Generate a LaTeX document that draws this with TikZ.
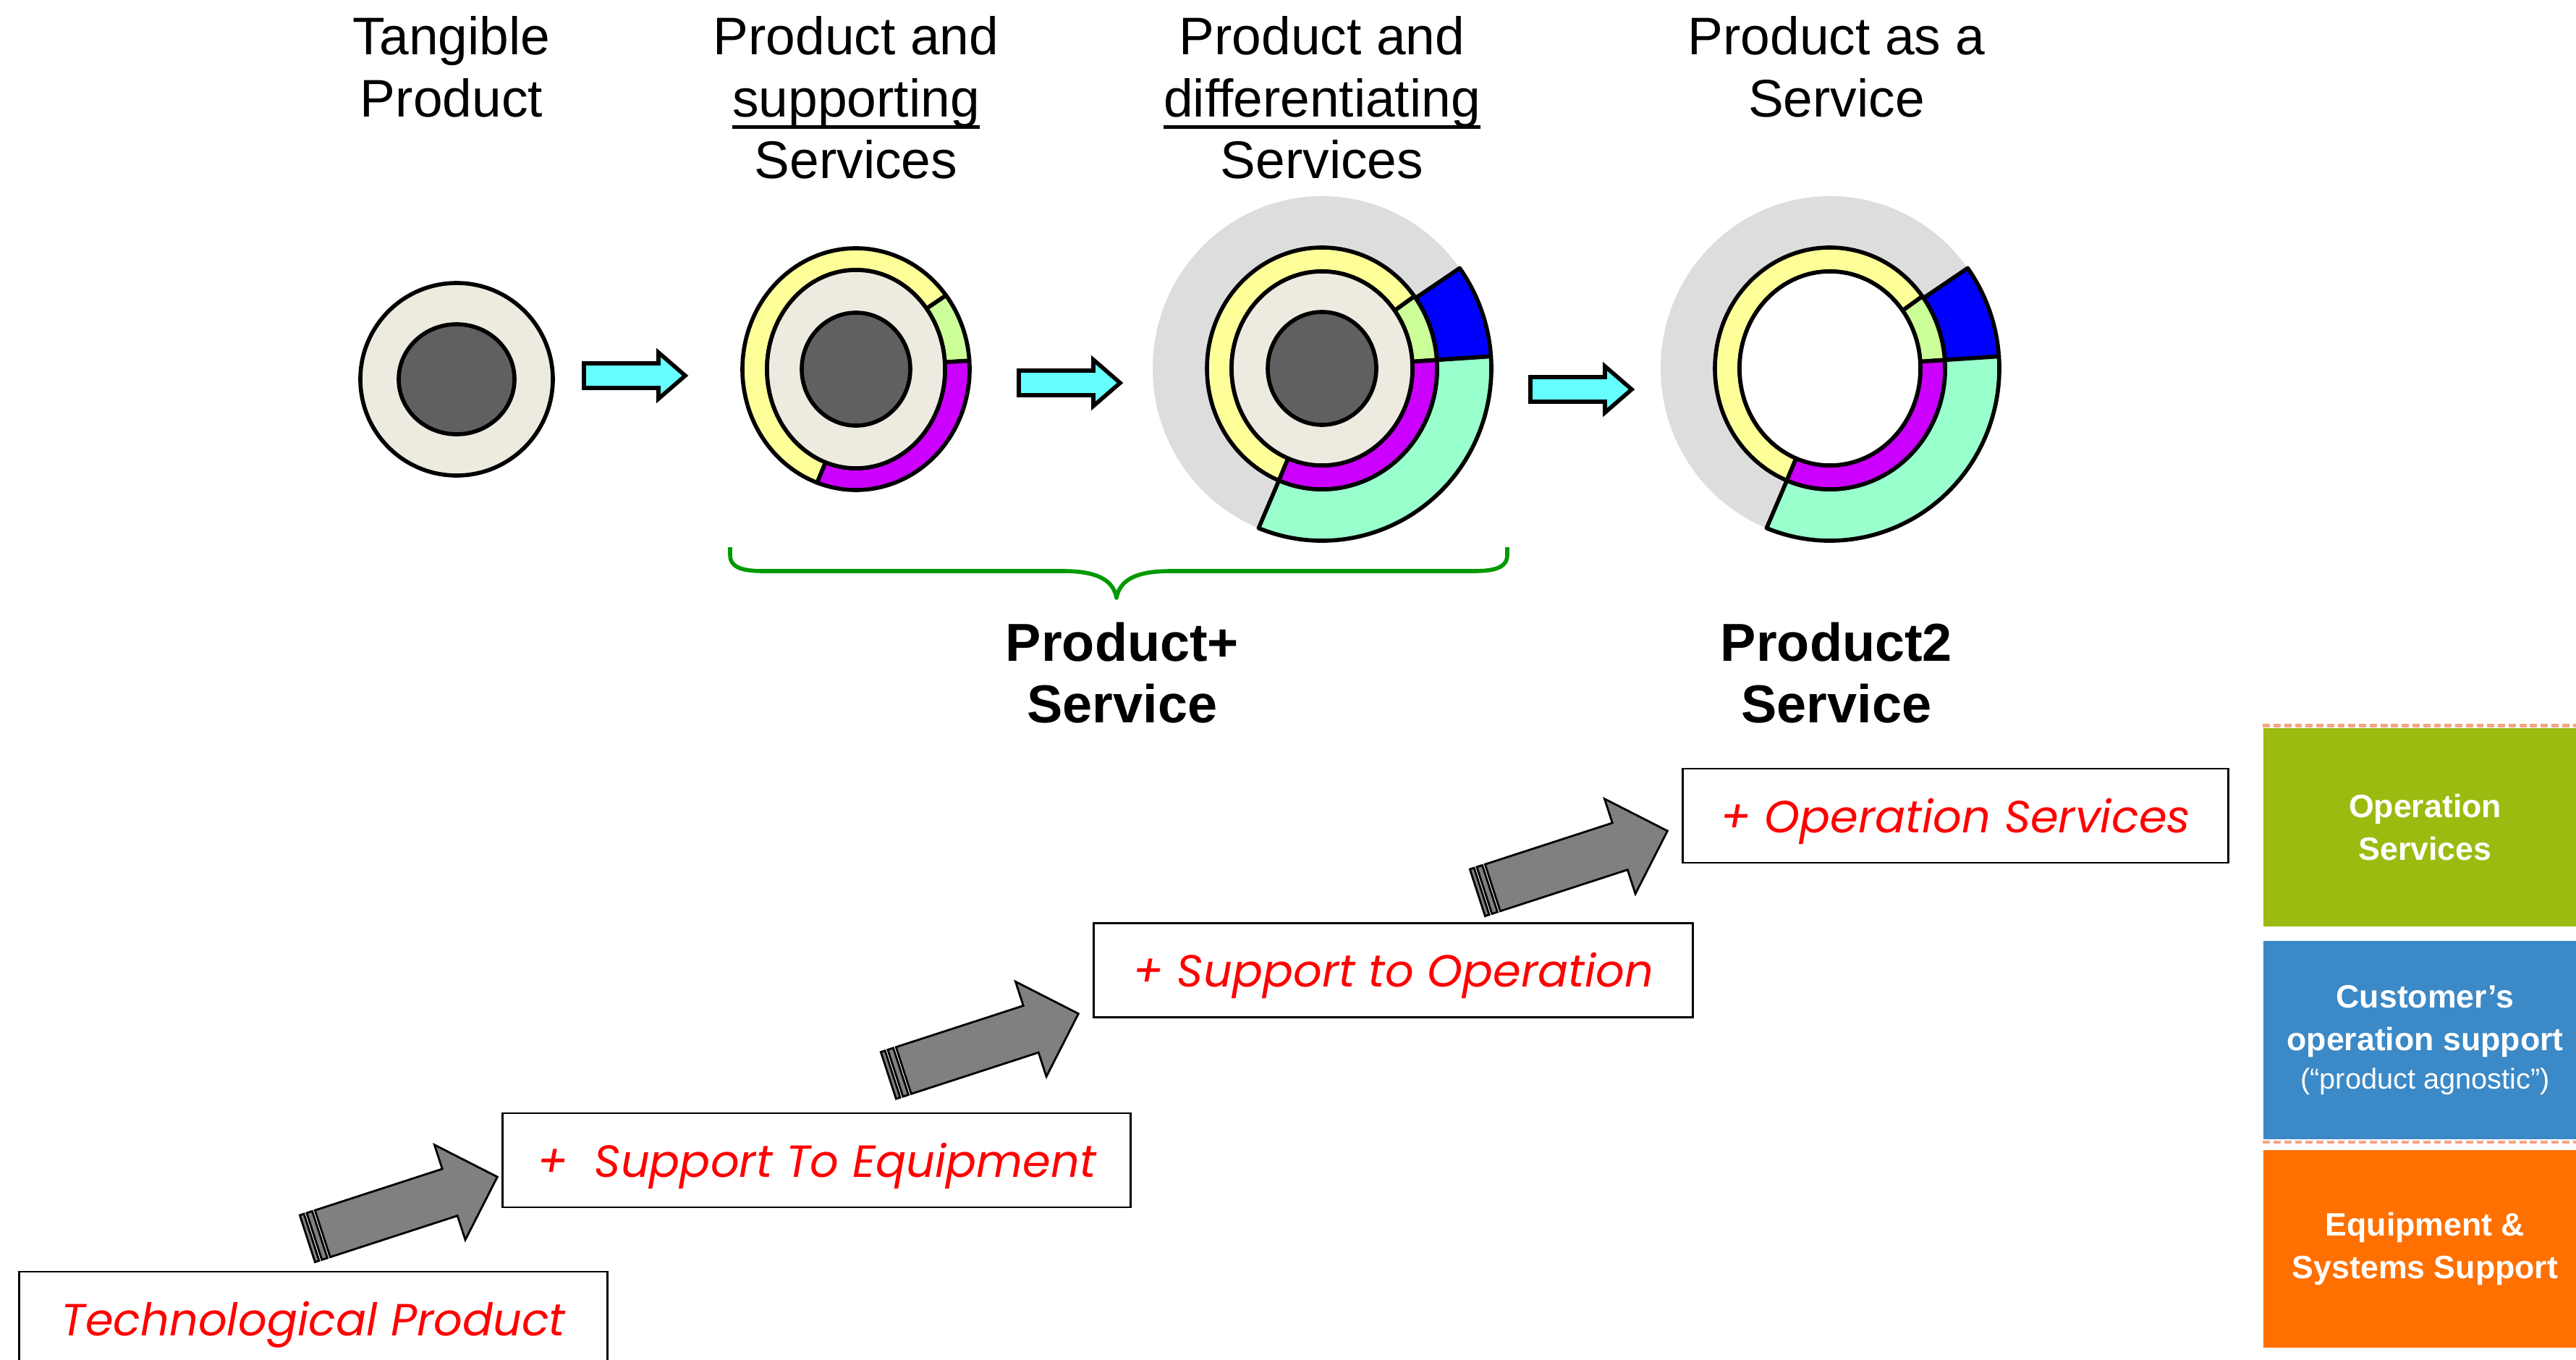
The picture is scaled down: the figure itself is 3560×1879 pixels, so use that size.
\documentclass[tikz,border=0pt]{standalone}
\usepackage{fontspec}
\setmainfont{Liberation Sans}
\newfontfamily\redfont{Poppins}
\usetikzlibrary{calc}
\definecolor{darkc}{HTML}{606060}
\definecolor{creamc}{HTML}{EDEBE0}
\definecolor{yellowc}{HTML}{FFFF99}
\definecolor{lgreenc}{HTML}{CCFF99}
\definecolor{magc}{HTML}{CC00FF}
\definecolor{aquac}{HTML}{99FFCC}
\definecolor{bluec}{HTML}{0000FF}
\definecolor{grayc}{HTML}{DDDDDD}
\definecolor{cyanc}{HTML}{66FFFF}
\definecolor{arrowgray}{HTML}{808080}
\definecolor{bracegreen}{HTML}{009900}
\definecolor{boxgreen}{HTML}{9BBB11}
\definecolor{boxblue}{HTML}{3B89C6}
\definecolor{boxorange}{HTML}{FF7000}
\definecolor{salmonc}{HTML}{F4A582}
\definecolor{redc}{HTML}{FF0000}
% annular sector: style, a, b, rxi, ryi, rxo, ryo
\newcommand\annsec[7]{\filldraw[#1] (#2:#6 and #7) arc[start angle=#2, end angle=#3, x radius=#6, y radius=#7] -- (#3:#4 and #5) arc[start angle=#3, end angle=#2, x radius=#4, y radius=#5] -- cycle;}
\newcommand\cyanarrow[1]{\filldraw[cyanarr, shift={(#1)}] (-70,-17) -- (33,-17) -- (33,-32) -- (70,0) -- (33,32) -- (33,17) -- (-70,17) -- cycle;}
\newcommand\bigarrow[1]{%
  \begin{scope}[shift={(#1)}, rotate=18]
    \filldraw[grayarr] (0,0) -- (-69,-69) -- (-69,-34) -- (-254,-34) -- (-254,34) -- (-69,34) -- (-69,69) -- cycle;
    \filldraw[grayarr] (-266,-34) rectangle (-258,34);
    \filldraw[grayarr] (-276,-34) rectangle (-270,34);
  \end{scope}}
\newcommand\ulx[1]{\setbox0\hbox{#1}\rlap{\rule[-4.8pt]{\wd0}{1.4pt}}\box0}
\begin{document}
\begin{tikzpicture}[x=0.01cm, y=-0.01cm,
  seg/.style={draw=black, line width=1.6pt, line join=round},
  cyanarr/.style={fill=cyanc, draw=black, line width=1.6pt, line join=miter},
  grayarr/.style={fill=arrowgray, draw=black, line width=0.8pt, line join=miter},
  hdr/.style={inner sep=0pt, font=\fontsize{20.8pt}{24.2pt}\selectfont},
  hdrb/.style={inner sep=0pt, font=\fontsize{21pt}{24.2pt}\selectfont\bfseries},
  stepbox/.style={draw=black, line width=0.8pt, fill=white, inner sep=0pt, minimum height=1.30cm},
  redtxt/.style={inner sep=0pt, text=redc, font=\redfont\fontsize{17.7pt}{20pt}\selectfont\itshape},
  colbox/.style={inner sep=0pt, minimum width=4.47cm, minimum height=2.74cm, text=white, align=center, font=\fontsize{12.7pt}{16.8pt}\selectfont\bfseries},
  bracel/.style={draw=bracegreen, line width=1.6pt, line join=round},
  salmondash/.style={draw=salmonc, line width=1.3pt, dash pattern=on 2.8pt off 1.4pt}
]
\useasboundingbox (0,0) rectangle (3560,1879);
\clip (0,0) rectangle (3560,1879);

% ---------- headers ----------
\node[hdr, anchor=base] (h1) at (624,76) {\begin{tabular}[t]{@{}c@{}}Tangible\\Product\end{tabular}};
\node[hdr, anchor=base] (h2) at (1183,76) {\begin{tabular}[t]{@{}c@{}}Product and\\\ulx{supporting}\\Services\end{tabular}};
\node[hdr, anchor=base] (h3) at (1827,76) {\begin{tabular}[t]{@{}c@{}}Product and\\\ulx{differentiating}\\Services\end{tabular}};
\node[hdr, anchor=base] (h4) at (2538,76) {\begin{tabular}[t]{@{}c@{}}Product as a\\Service\end{tabular}};

% ---------- circle 1 ----------
\coordinate (c1) at (631,524);
\begin{scope}[shift={(c1)}, yscale=-1]
  \filldraw[seg, fill=creamc] (0,0) circle [radius=133];
  \filldraw[seg, fill=darkc] (0,0) ellipse [x radius=80, y radius=76];
\end{scope}

% ---------- circle 2 ----------
\coordinate (c2) at (1183,510);
\begin{scope}[shift={(c2)}, yscale=-1]
  \annsec{seg, fill=yellowc}{37.6}{250}{123}{137}{157}{167}
  \annsec{seg, fill=lgreenc}{4}{37.6}{123}{137}{157}{167}
  \annsec{seg, fill=magc}{-110}{4}{123}{137}{157}{167}
  \filldraw[seg, fill=creamc] (0,0) ellipse [x radius=123, y radius=137];
  \filldraw[seg, fill=darkc] (0,0) ellipse [x radius=75, y radius=78];
\end{scope}

% ---------- circle 3 ----------
\coordinate (c3) at (1827,509);
\begin{scope}[shift={(c3)}, yscale=-1]
  \fill[grayc] (0,0) ellipse [x radius=234, y radius=238];
  \annsec{seg, fill=bluec}{4}{35.6}{159}{167}{234}{238}
  \annsec{seg, fill=aquac}{-112}{4}{159}{167}{234}{238}
  \annsec{seg, fill=yellowc}{36.6}{248}{125}{134}{159}{167}
  \annsec{seg, fill=lgreenc}{4}{36.6}{125}{134}{159}{167}
  \annsec{seg, fill=magc}{-112}{4}{125}{134}{159}{167}
  \filldraw[seg, fill=creamc] (0,0) ellipse [x radius=125, y radius=134];
  \filldraw[seg, fill=darkc] (0,0) ellipse [x radius=75, y radius=78];
\end{scope}

% ---------- circle 4 ----------
\coordinate (c4) at (2529,509);
\begin{scope}[shift={(c4)}, yscale=-1]
  \fill[grayc] (0,0) ellipse [x radius=234, y radius=238];
  \annsec{seg, fill=bluec}{4}{35.6}{159}{167}{234}{238}
  \annsec{seg, fill=aquac}{-112}{4}{159}{167}{234}{238}
  \annsec{seg, fill=yellowc}{36.6}{248}{125}{134}{159}{167}
  \annsec{seg, fill=lgreenc}{4}{36.6}{125}{134}{159}{167}
  \annsec{seg, fill=magc}{-112}{4}{125}{134}{159}{167}
  \filldraw[seg, fill=white] (0,0) ellipse [x radius=125, y radius=134];
\end{scope}

% ---------- cyan arrows ----------
\coordinate (a1) at (877,519);
\coordinate (a2) at (1478,529);
\coordinate (a3) at (2185,538);
\cyanarrow{a1}
\cyanarrow{a2}
\cyanarrow{a3}

% ---------- brace ----------
\draw[bracel] (1009,756) -- (1009,767) to[out=-90, in=180] (1063,789) -- (1468,789)
  to[out=0, in=100] (1543,826) to[out=80, in=180] (1620,789) -- (2032,789)
  to[out=0, in=-90] (2083,767) -- (2083,756);

\node[hdrb, anchor=base] (ps) at (1551,913) {\begin{tabular}[t]{@{}c@{}}Product+\\Service\end{tabular}};
\node[hdrb, anchor=base] (p2) at (2538,913) {\begin{tabular}[t]{@{}c@{}}Product2\\Service\end{tabular}};

% ---------- step boxes ----------
\node[stepbox, minimum width=8.12cm] (b1) at (433,1822) {};
\node[stepbox, minimum width=8.67cm] (b2) at (1128.5,1603) {};
\node[stepbox, minimum width=8.27cm] (b3) at (1925.5,1340.5) {};
\node[stepbox, minimum width=7.53cm] (b4) at (2702.5,1127) {};
\node[redtxt, anchor=base] (t1) at ($(b1.center)+(0,23)$) {Technological Product};
\node[redtxt, anchor=base] (t2) at ($(b2.center)+(0,23)$) {+\ \ Support To Equipment};
\node[redtxt, anchor=base] (t3) at ($(b3.center)+(0,23)$) {+ Support to Operation};
\node[redtxt, anchor=base] (t4) at ($(b4.center)+(0,23)$) {+ Operation Services};

% ---------- gray arrows ----------
\coordinate (tipA) at ($(b2.west)+(-6,23)$);
\coordinate (tipB) at ($(b3.west)+(-20,60)$);
\coordinate (tipC) at ($(b4.west)+(-20,21)$);
\bigarrow{tipA}
\bigarrow{tipB}
\bigarrow{tipC}

% ---------- right column ----------
\node[colbox, fill=boxgreen] (g) at (3351.5,1143) {Operation\\Services};
\node[colbox, fill=boxblue] (bl) at (3351.5,1437) {Customer’s\\operation support\\[-1.5pt]{\fontsize{11.3pt}{15pt}\selectfont\mdseries (“product agnostic”)}};
\node[colbox, fill=boxorange, minimum height=2.73cm] (o) at (3351.5,1725.5) {Equipment \&\\Systems Support};
\draw[salmondash] ($(g.north west)+(0,-3)$) -- ++(440,0);
\draw[salmondash] ($(bl.south west)+(0,3)$) -- ++(440,0);
\end{tikzpicture}
\end{document}
